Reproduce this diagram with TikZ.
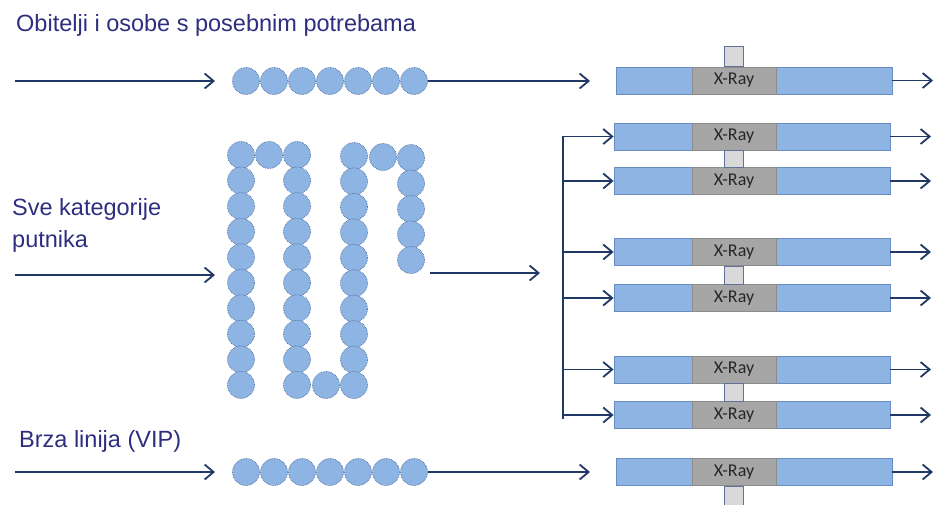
\documentclass[tikz,border=0pt]{standalone}
\usepackage{fontspec}
\setmainfont{Liberation Sans}
\newfontfamily\xrayfont{Carlito}
\usetikzlibrary{positioning,calc,arrows.meta}
\definecolor{navy}{RGB}{31,56,100}
\definecolor{txtblue}{RGB}{46,46,128}
\definecolor{qfill}{RGB}{141,180,226}
\definecolor{qline}{RGB}{75,105,155}
\definecolor{laneline}{RGB}{105,140,195}
\definecolor{xrayfill}{RGB}{166,166,166}
\definecolor{xrayline}{RGB}{140,140,140}
\definecolor{gatefill}{RGB}{217,217,217}
\definecolor{gateline}{RGB}{95,115,150}

\begin{document}
\begin{tikzpicture}[x=1pt,y=-1pt,
    pax/.style={circle,draw=qline,densely dotted,line width=0.7pt,fill=qfill,minimum size=27pt,inner sep=0pt},
    lane/.style={rectangle,draw=laneline,line width=0.8pt,fill=qfill,minimum width=276pt,minimum height=27pt,inner sep=0pt},
    xray/.style={rectangle,draw=xrayline,line width=0.8pt,fill=xrayfill,minimum width=84pt,minimum height=27pt,inner sep=0pt,font=\xrayfont\fontsize{18}{20}\selectfont,text=black!85},
    gate/.style={rectangle,draw=gateline,line width=0.8pt,fill=gatefill,minimum width=19pt,minimum height=20pt,inner sep=0pt},
    flow/.style={draw=navy,line width=1.8pt,-{Straight Barb[length=9pt,width=15pt]}},
    cat/.style={anchor=base west,inner sep=0pt,text=txtblue,font=\fontsize{23.5}{32}\selectfont,align=left}]
    \useasboundingbox (0,0) rectangle (934,504);

    % naslovi
    \node[cat] (t1) at (16,31) {Obitelji i osobe s posebnim potrebama};
    \node[cat] (t2) at (12,247) {Sve kategorije\\putnika};
    \node[cat] (t3) at (19,447) {Brza linija (VIP)};

    % gornji red
    \coordinate (s1) at (15,81);
    \coordinate (e1) at (215,81);
    \coordinate (f1) at (590,81);
    \foreach \i in {1,...,7} \node[pax] (a\i) at ({218+28*\i},81) {};
    \draw[flow] (s1) -- (e1);
    \draw[flow] (a7.east) -- (f1);
    \node[lane] (L0) at (754,80.5) {};
    \node[xray] (X0) at (734,80.5) {X-Ray};
    \node[gate,above=0pt of X0] (G0) {};
    \coordinate (o0) at (933,80.5);
    \draw[flow] (L0) -- (o0);

    % zmija
    \coordinate (s2) at (15,275);
    \coordinate (e2) at (215,275);
    \draw[flow] (s2) -- (e2);
    \foreach \k in {0,...,9} {
        \node[pax] (c1-\k) at (241,{155+25.55*\k}) {};
        \node[pax] (c2-\k) at (297,{155+25.55*\k}) {};
        \node[pax] (c3-\k) at (354,{156+25.45*\k}) {};
    }
    \foreach \k in {0,...,4} \node[pax] (c4-\k) at (411,{158+25.5*\k}) {};
    \node[pax] (b1) at (269,155) {};
    \node[pax] (b2) at (326,385) {};
    \node[pax] (b3) at (383,157) {};
    \coordinate (m1) at (430,273);
    \coordinate (m2) at (540,273);
    \draw[flow] (m1) -- (m2);

    % srednje trake
    \coordinate (bus) at (563,0);
    \foreach \n/\y in {1/136.5,2/181,3/252,4/298,5/369.5,6/415} {
        \node[lane] (L\n) at (752,\y) {};
        \node[xray] (X\n) at (734,\y) {X-Ray};
        \coordinate (o\n) at (931,\y);
        \draw[flow] (L\n) -- (o\n);
        \draw[flow] (bus |- L\n) -- (L\n.west);
    }
    \foreach \n/\m in {1/2,3/4,5/6}
        \draw[draw=gateline,line width=0.8pt,fill=gatefill] ([xshift=-9.5pt]X\n.south) rectangle ([xshift=9.5pt]X\m.north);
    \draw[navy,line width=2.6pt] ([yshift=1pt]bus |- L1) -- ([yshift=-4pt]bus |- L6);

    % donji red
    \coordinate (s3) at (15,472);
    \coordinate (e3) at (215,472);
    \coordinate (f3) at (590,472);
    \foreach \i in {1,...,7} \node[pax] (d\i) at ({218+28*\i},472) {};
    \draw[flow] (s3) -- (e3);
    \draw[flow] (d7.east) -- (f3);
    \node[lane] (L7) at (754,472) {};
    \node[xray] (X7) at (734,472) {X-Ray};
    \node[gate,below=0pt of X7] (G7) {};
    \coordinate (o7) at (933,472);
    \draw[flow] (L7) -- (o7);
\end{tikzpicture}
\end{document}
